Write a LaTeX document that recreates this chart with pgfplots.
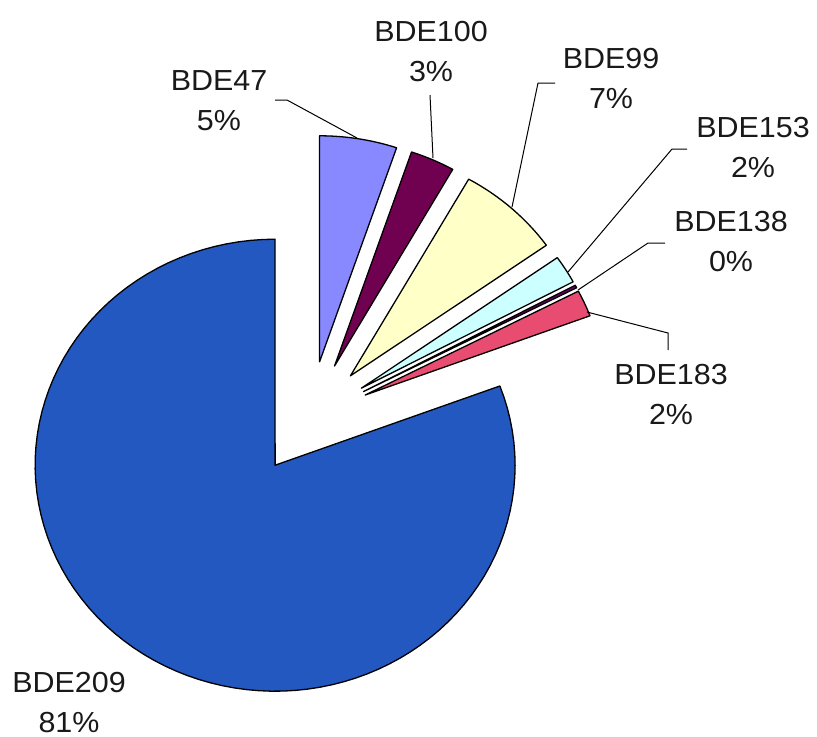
\documentclass[border=0pt]{standalone}
\usepackage{fontspec}
\setmainfont{Liberation Sans}
\usepackage{pgfplots}
\pgfplotsset{compat=1.18}
\definecolor{c47}{RGB}{136,136,255}
\definecolor{c100}{RGB}{112,0,80}
\definecolor{c99}{RGB}{255,255,200}
\definecolor{c153}{RGB}{204,255,255}
\definecolor{c138}{RGB}{102,0,102}
\definecolor{c183}{RGB}{232,76,112}
\definecolor{c209}{RGB}{34,88,192}
\tikzset{lbl/.style={font=\fontsize{14.5}{20}\selectfont, align=center, inner sep=0pt, text=black!90, xscale=1.05}}
% pie geometry (in picture pixels): centre, radii, explosion
\def\cx{309.7}\def\cy{418.2}\def\rx{240}\def\ry{226}\def\ex{0.253}
\gdef\cum{0}
\newcommand{\pieslice}[2]{% value (percent), colour
  \pgfmathsetmacro\sa{\cum*3.6}%
  \pgfmathsetmacro\sb{(\cum+#1)*3.6}%
  \pgfmathsetmacro\sm{(\sa+\sb)/2}%
  \pgfmathsetmacro\ox{\cx+\ex*\rx*sin(\sm)}%
  \pgfmathsetmacro\oy{\cy-\ex*\ry*cos(\sm)}%
  \edef\doslice{\noexpand\addplot[fill=#2, draw=black, line width=0.65pt, line join=round,
     domain=\sa:\sb, samples=100, variable=\noexpand\t]
     ({\ox+\rx*sin(\noexpand\t)},{\oy-\ry*cos(\noexpand\t)}) -- (axis cs:\ox,\oy) -- cycle;}%
  \doslice
  \pgfmathsetmacro\newcum{\cum+#1}%
  \global\let\cum\newcum
}
\begin{document}
\begin{tikzpicture}
\begin{axis}[
  x=0.5pt, y=0.5pt, y dir=reverse,
  xmin=0, xmax=817, ymin=0, ymax=736,
  hide axis, clip=false,
]
\path (axis cs:0,0) rectangle (axis cs:817,736);
% values in percent, clockwise from 12 o'clock
\pieslice{5.2}{c47}
\pieslice{3.0}{c100}
\pieslice{7.0}{c99}
\pieslice{2.0}{c153}
\pieslice{0.2}{c138}
\pieslice{1.9}{c183}
\pieslice{80.7}{c209}
% leader lines
\draw[line width=0.5pt] (axis cs:275,100) -- (axis cs:287,100) -- (axis cs:357,138);
\draw[line width=0.5pt] (axis cs:430,95) -- (axis cs:433,158);
\draw[line width=0.5pt] (axis cs:555,83) -- (axis cs:538,83) -- (axis cs:512,207);
\draw[line width=0.5pt] (axis cs:687,149) -- (axis cs:672,149) -- (axis cs:568,272);
\draw[line width=0.5pt] (axis cs:665,243) -- (axis cs:648,243) -- (axis cs:578,290);
\draw[line width=0.5pt] (axis cs:587,312) -- (axis cs:668,333) -- (axis cs:668,350);
% labels
\node[lbl] at (axis cs:219,100.5) {BDE47\\5\%};
\node[lbl] at (axis cs:431,52) {BDE100\\3\%};
\node[lbl] at (axis cs:611,78) {BDE99\\7\%};
\node[lbl] at (axis cs:753,147) {BDE153\\2\%};
\node[lbl] at (axis cs:731,242) {BDE138\\0\%};
\node[lbl] at (axis cs:671,394) {BDE183\\2\%};
\node[lbl] at (axis cs:69,702.5) {BDE209\\81\%};
\end{axis}
\end{tikzpicture}
\end{document}
